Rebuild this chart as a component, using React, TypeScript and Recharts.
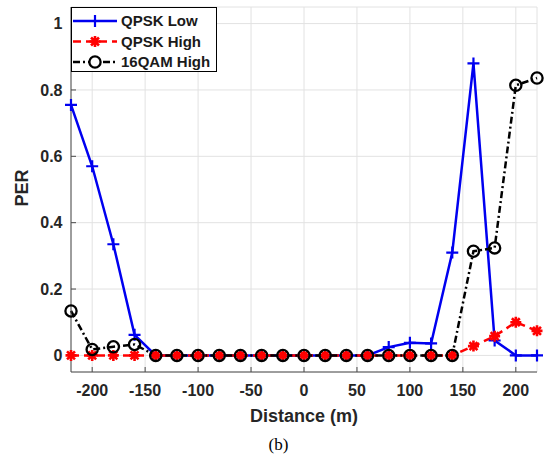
import { LineChart, Line, XAxis, YAxis, CartesianGrid } from "recharts";

// distance (m) sampled every 20 m
const distance = [
  -220, -200, -180, -160, -140, -120, -100, -80, -60, -40, -20, 0, 20, 40, 60,
  80, 100, 120, 140, 160, 180, 200, 220,
];
const qpskLow = [
  0.755, 0.57, 0.335, 0.062, 0, 0, 0, 0, 0, 0, 0, 0, 0, 0, 0, 0.025, 0.038,
  0.036, 0.31, 0.88, 0.045, 0, 0,
];
const qpskHigh = [
  0, 0, 0, 0, 0, 0, 0, 0, 0, 0, 0, 0, 0, 0, 0, 0, 0, 0, 0, 0.028, 0.058, 0.1,
  0.074,
];
const qam16High = [
  0.134, 0.018, 0.026, 0.033, 0, 0, 0, 0, 0, 0, 0, 0, 0, 0, 0, 0, 0, 0, 0,
  0.314, 0.324, 0.814, 0.836,
];
const xTicks = [-200, -150, -100, -50, 0, 50, 100, 150, 200];
const yTicks = [0, 0.2, 0.4, 0.6, 0.8, 1];
const seriesNames = ["QPSK Low", "QPSK High", "16QAM High"];

const BLUE = "#0000f0";
const RED = "#ff0000";
const BLACK = "#000000";
const AXIS = "#4a4a4a";
const FONT = "'Liberation Sans', Arial, Helvetica, sans-serif";

const data = distance.map((d, i) => ({
  distance: d,
  qpskLow: qpskLow[i],
  qpskHigh: qpskHigh[i],
  qam16High: qam16High[i],
}));

function PlusMark({ cx, cy }: { cx: number; cy: number }) {
  return (
    <path
      d={`M${cx - 6},${cy}H${cx + 6}M${cx},${cy - 6}V${cy + 6}`}
      stroke={BLUE}
      strokeWidth={2.2}
      fill="none"
    />
  );
}

function StarMark({ cx, cy }: { cx: number; cy: number }) {
  const r = 5.5;
  const d = r * 0.72;
  return (
    <path
      d={`M${cx - r},${cy}H${cx + r}M${cx},${cy - r}V${cy + r}M${cx - d},${cy - d}L${cx + d},${cy + d}M${cx - d},${cy + d}L${cx + d},${cy - d}`}
      stroke={RED}
      strokeWidth={2.6}
      fill="none"
    />
  );
}

function CircleMark({ cx, cy }: { cx: number; cy: number }) {
  return <circle cx={cx} cy={cy} r={5.6} stroke={BLACK} strokeWidth={2.3} fill="none" />;
}

const tickStyle = { fill: "#262626", fontSize: 16, fontWeight: "bold", fontFamily: FONT };

export default function App() {
  return (
    <div
      style={{
        position: "absolute",
        left: 0,
        top: 0,
        width: 545,
        height: 457,
        background: "#fff",
        fontFamily: FONT,
      }}
    >
      <LineChart
        width={545}
        height={457}
        data={data}
        margin={{ top: 7, right: 8, bottom: 0, left: 0 }}
      >
        <CartesianGrid stroke="#e2e2e2" strokeWidth={1} />
        <XAxis
          dataKey="distance"
          type="number"
          domain={[-220, 220]}
          ticks={xTicks}
          interval={0}
          height={85}
          tickSize={-5}
          tickMargin={18}
          tick={tickStyle}
          stroke={AXIS}
        />
        <XAxis
          xAxisId="top"
          orientation="top"
          dataKey="distance"
          type="number"
          domain={[-220, 220]}
          ticks={xTicks}
          interval={0}
          height={0}
          tickSize={-5}
          tick={false}
          stroke={AXIS}
        />
        <YAxis
          type="number"
          domain={[-0.05, 1.05]}
          ticks={yTicks}
          interval={0}
          width={71}
          tickSize={-5}
          tickMargin={13.5}
          tick={tickStyle}
          tickFormatter={(v: number) => String(v)}
          stroke={AXIS}
        />
        <YAxis
          yAxisId="right"
          orientation="right"
          type="number"
          domain={[-0.05, 1.05]}
          ticks={yTicks}
          interval={0}
          width={0}
          tickSize={-5}
          tick={false}
          stroke={AXIS}
        />
        <Line
          dataKey="qpskLow"
          name={seriesNames[0]}
          type="linear"
          stroke={BLUE}
          strokeWidth={2.5}
          dot={(p: any) => <PlusMark key={`pl-${p.index}`} cx={p.cx} cy={p.cy} />}
          activeDot={false}
          isAnimationActive={false}
        />
        <Line
          dataKey="qpskHigh"
          name={seriesNames[1]}
          type="linear"
          stroke={RED}
          strokeWidth={2.5}
          strokeDasharray="8 5"
          dot={(p: any) => <StarMark key={`st-${p.index}`} cx={p.cx} cy={p.cy} />}
          activeDot={false}
          isAnimationActive={false}
        />
        <Line
          dataKey="qam16High"
          name={seriesNames[2]}
          type="linear"
          stroke={BLACK}
          strokeWidth={2.5}
          strokeDasharray="7 3 2 3"
          dot={(p: any) => <CircleMark key={`ci-${p.index}`} cx={p.cx} cy={p.cy} />}
          activeDot={false}
          isAnimationActive={false}
        />
      </LineChart>

      {/* legend, axis titles and caption */}
      <svg
        width={545}
        height={457}
        style={{ position: "absolute", left: 0, top: 0, pointerEvents: "none" }}
      >
        <rect x={71.5} y={7.5} width={145} height={64} fill="#fff" stroke="#000" strokeWidth={1} />
        <line x1={73} x2={117} y1={21} y2={21} stroke={BLUE} strokeWidth={2.5} />
        <PlusMark cx={95} cy={21} />
        <line x1={73} x2={117} y1={41.5} y2={41.5} stroke={RED} strokeWidth={2.5} strokeDasharray="8 5" />
        <StarMark cx={95} cy={41.5} />
        <line x1={73} x2={117} y1={62} y2={62} stroke={BLACK} strokeWidth={2.5} strokeDasharray="7 3 2 3" />
        <circle cx={95} cy={62} r={5.5} fill="#fff" />
        <CircleMark cx={95} cy={62} />
        {seriesNames.map((n, i) => (
          <text
            key={n}
            x={121}
            y={[21, 41.5, 62][i] + 5.3}
            fontSize={15}
            fontWeight="bold"
            fontFamily={FONT}
            fill="#1a1a1a"
          >
            {n}
          </text>
        ))}
        <text
          x={304}
          y={422}
          textAnchor="middle"
          fontSize={18}
          fontWeight="bold"
          fontFamily={FONT}
          fill="#262626"
        >
          Distance (m)
        </text>
        <text
          x={28}
          y={188}
          textAnchor="middle"
          transform="rotate(-90, 28, 188)"
          fontSize={18}
          fontWeight="bold"
          fontFamily={FONT}
          fill="#262626"
        >
          PER
        </text>
        <text
          x={278.5}
          y={449.5}
          textAnchor="middle"
          fontSize={17}
          fontFamily="'Liberation Serif', 'Times New Roman', serif"
          fill="#000"
        >
          (b)
        </text>
      </svg>
    </div>
  );
}
